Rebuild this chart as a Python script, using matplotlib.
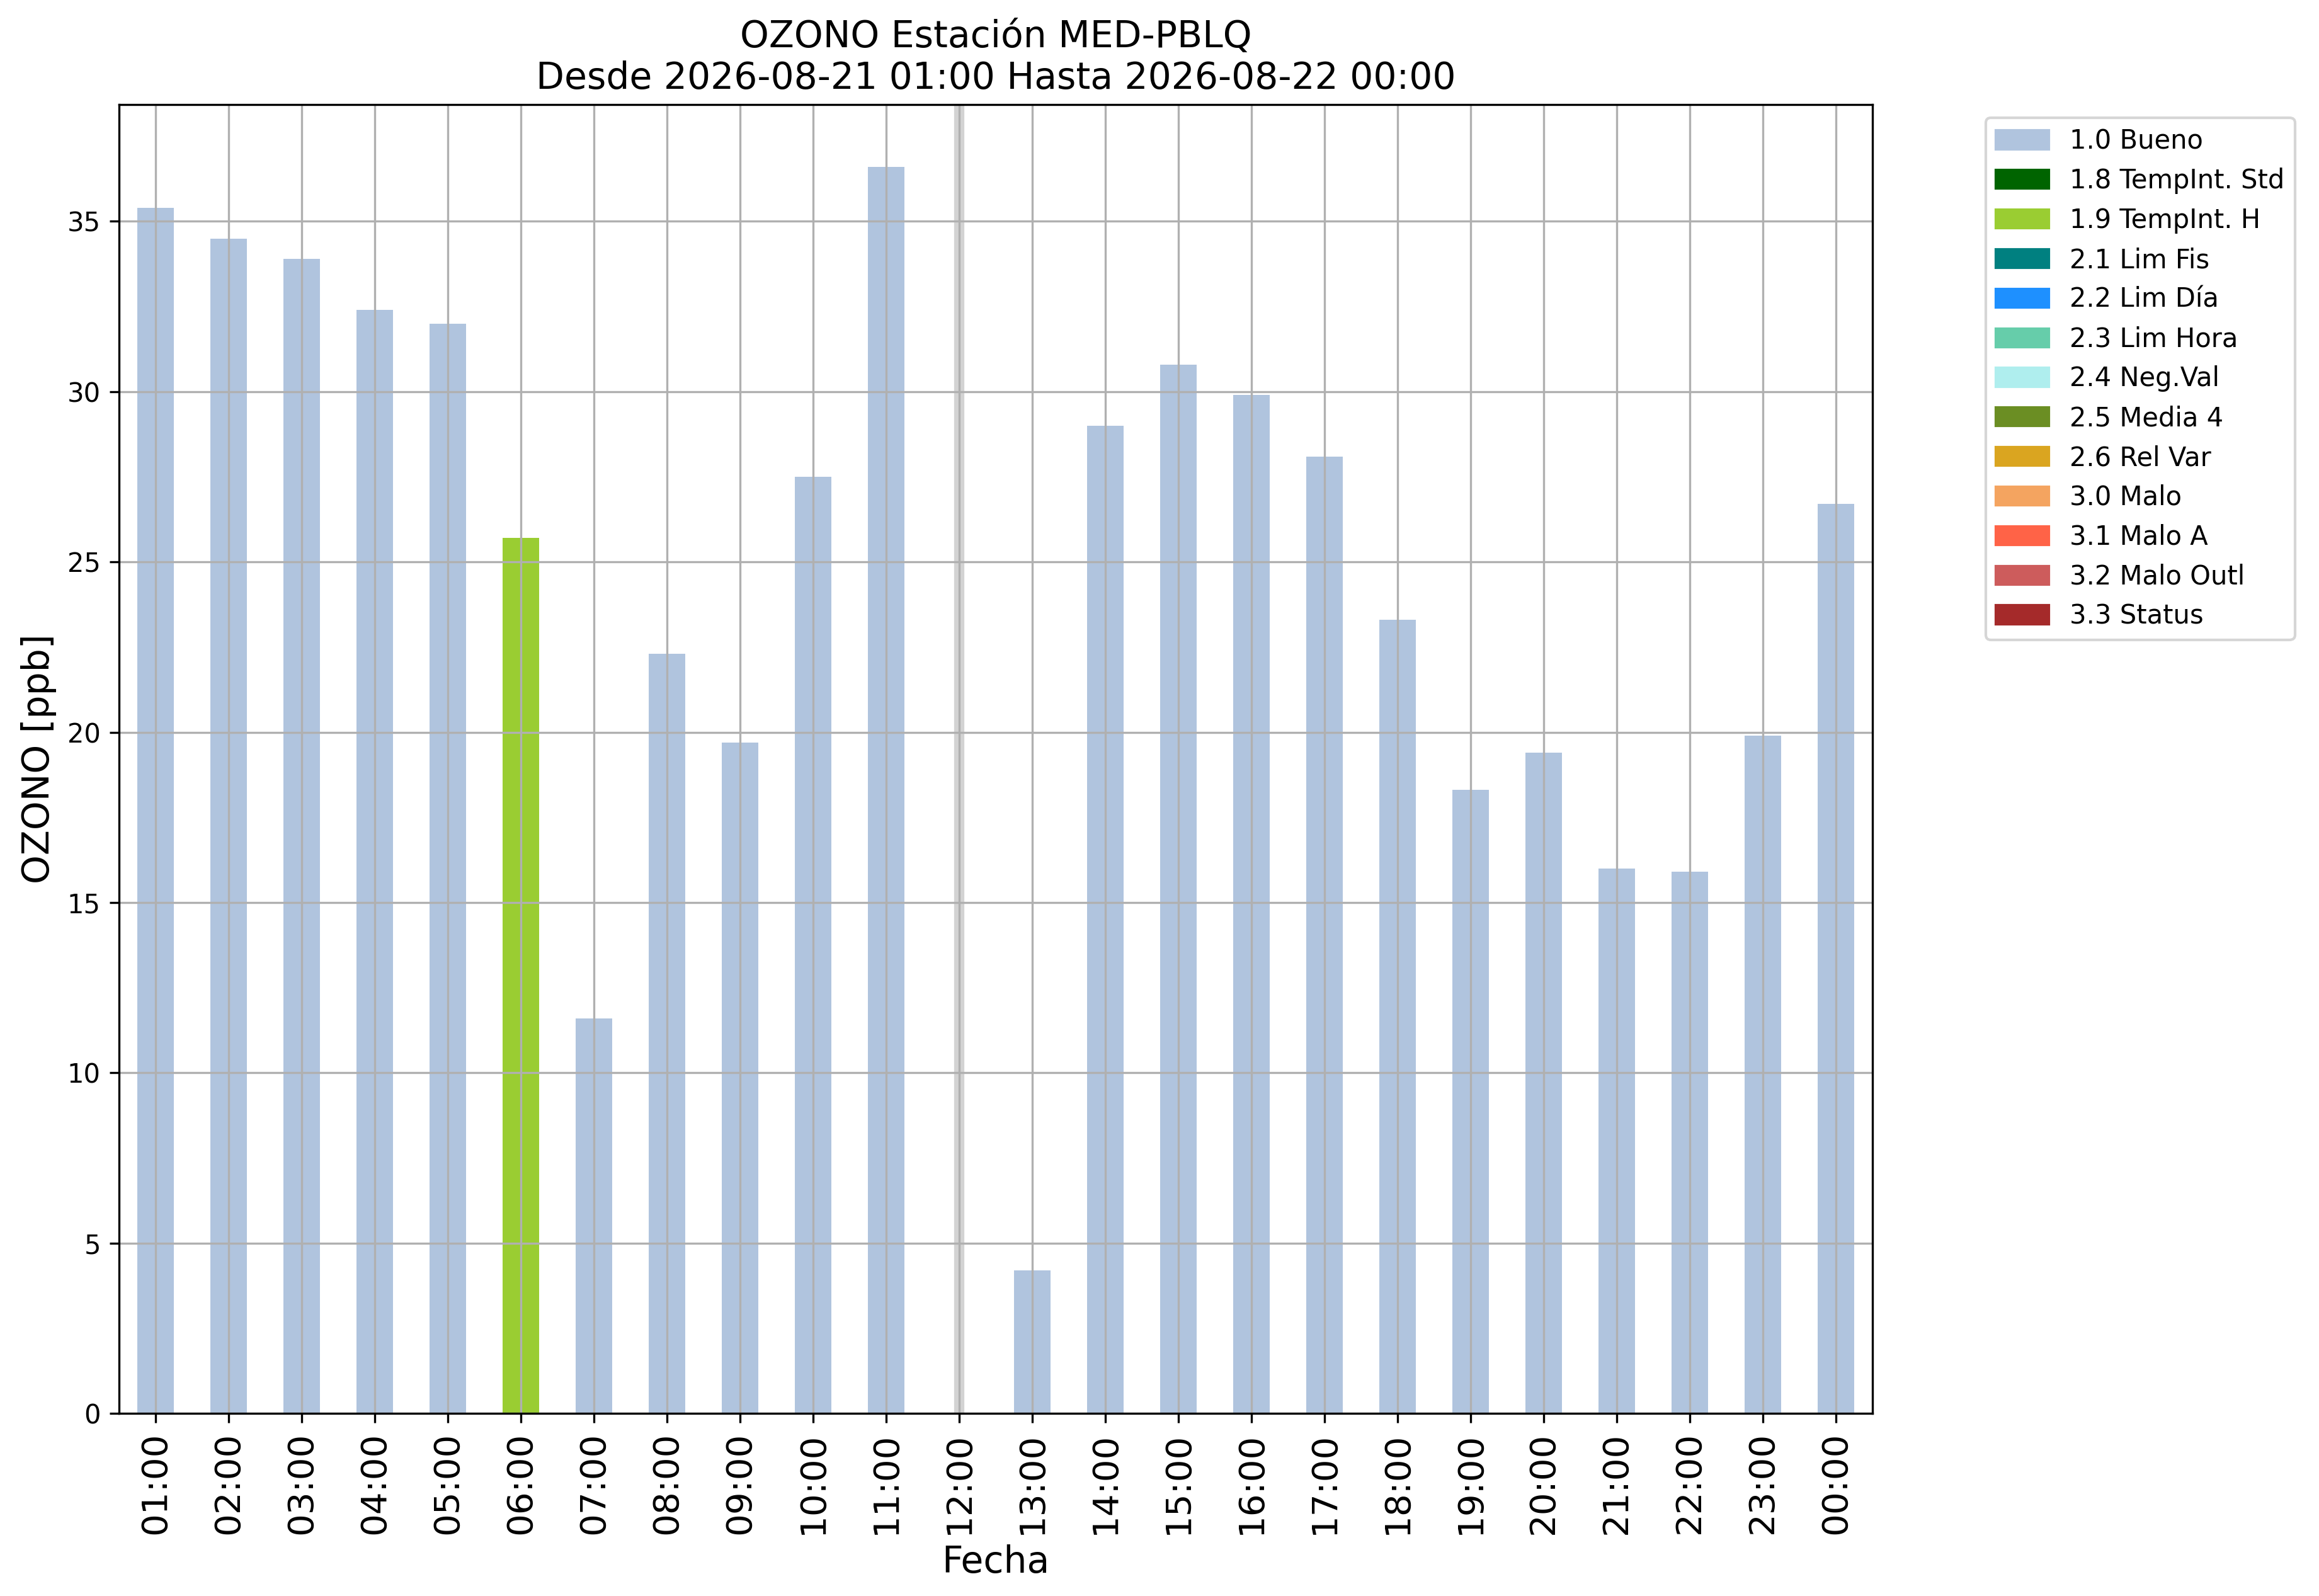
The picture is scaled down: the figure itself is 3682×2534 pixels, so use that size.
import numpy as np
import matplotlib
matplotlib.use('Agg')
import matplotlib.pyplot as plt
from matplotlib.patches import Patch

# Hourly ozone values (ppb); 12:00 has no data
horas = ['01:00', '02:00', '03:00', '04:00', '05:00', '06:00', '07:00', '08:00',
         '09:00', '10:00', '11:00', '12:00', '13:00', '14:00', '15:00', '16:00',
         '17:00', '18:00', '19:00', '20:00', '21:00', '22:00', '23:00', '00:00']
ozono = [35.4, 34.5, 33.9, 32.4, 32.0, 25.7, 11.6, 22.3, 19.7, 27.5, 36.6, np.nan,
         4.2, 29.0, 30.8, 29.9, 28.1, 23.3, 18.3, 19.4, 16.0, 15.9, 19.9, 26.7]
banderas = ['1.0', '1.0', '1.0', '1.0', '1.0', '1.9', '1.0', '1.0', '1.0', '1.0', '1.0', None,
            '1.0', '1.0', '1.0', '1.0', '1.0', '1.0', '1.0', '1.0', '1.0', '1.0', '1.0', '1.0']

# Quality flag legend
codigos = ['1.0', '1.8', '1.9', '2.1', '2.2', '2.3', '2.4', '2.5', '2.6', '3.0', '3.1', '3.2', '3.3']
nombres = ['Bueno', 'TempInt. Std', 'TempInt. H', 'Lim Fis', 'Lim Día', 'Lim Hora',
           'Neg.Val', 'Media 4', 'Rel Var', 'Malo', 'Malo A', 'Malo Outl', 'Status']
colores = ['lightsteelblue', 'darkgreen', 'yellowgreen', 'teal', 'dodgerblue',
           'mediumaquamarine', 'paleturquoise', 'olivedrab', 'goldenrod', 'sandybrown',
           'tomato', 'indianred', 'brown']
color_de = dict(zip(codigos, colores))

fig = plt.figure(figsize=(3682 / 300, 2534 / 300), dpi=300)
ax = fig.add_axes([189 / 3682, 1 - 2244 / 2534, (2973 - 189) / 3682, (2244 - 166) / 2534])

x = np.arange(len(horas))
validos = [i for i in x if not np.isnan(ozono[i])]
ax.bar([x[i] for i in validos], [ozono[i] for i in validos], width=0.5,
       color=[color_de[banderas[i]] for i in validos])

# marker for the missing hour
faltantes = [i for i in x if np.isnan(ozono[i])]
for i in faltantes:
    ax.axvline(x[i], color='lightgrey', linewidth=3.9, zorder=1)

ax.set_xlim(-0.5, len(horas) - 0.5)
ax.set_xticks(x)
ax.set_xticklabels(horas, rotation=90, fontsize=13.5)
ax.tick_params(axis='y', labelsize=10)
ax.grid(True)

ax.set_xlabel('Fecha', fontsize=14)
ax.set_ylabel('OZONO [ppb]', fontsize=14)
ax.set_title('OZONO Estación MED-PBLQ\nDesde 2026-08-21 01:00 Hasta 2026-08-22 00:00', fontsize=14)

handles = [Patch(color=c, label=f'{k} {n}') for k, n, c in zip(codigos, nombres, colores)]
ax.legend(handles=handles, loc='upper left', bbox_to_anchor=(1.057, 1), fontsize=10)

fig.savefig('out.png', dpi=300)
